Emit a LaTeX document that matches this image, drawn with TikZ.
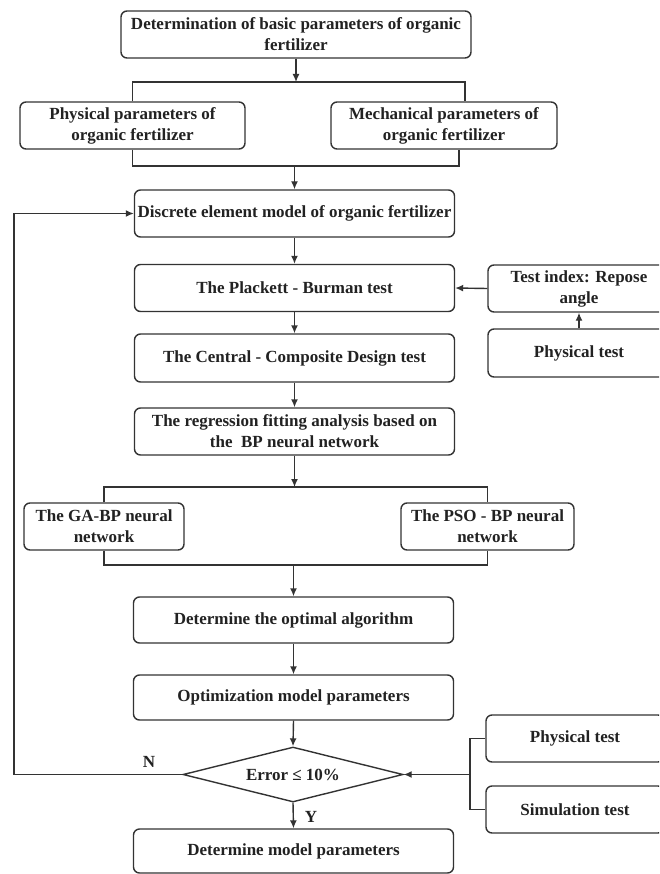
\documentclass[tikz,border=0pt]{standalone}
\usepackage{fontspec}
\setmainfont{Liberation Serif}
\usetikzlibrary{shapes.geometric,arrows.meta}
\definecolor{linec}{HTML}{333333}
\definecolor{txt}{HTML}{222222}
\newcommand{\myfs}{\fontsize{17}{21}\selectfont\bfseries}
\begin{document}
\begin{tikzpicture}[x=1pt,y=-1pt,
  box/.style={draw=linec, line width=1.4pt, rounded corners=6pt, align=center, inner sep=0pt, font=\myfs, text=txt, minimum height=47pt},
  conn/.style={draw=linec, line width=1.4pt},
  arr/.style={conn, -{Latex[length=8pt,width=7pt]}},
  lab/.style={font=\myfs, text=txt}]
\useasboundingbox (0,0) rectangle (659,874);
\clip (0,0) rectangle (659,874);
\fill[white] (0,0) rectangle (659,874);

\node[box, minimum width=350pt] (top) at (296,34.5) {Determination of basic parameters of organic\\fertilizer};
\node[box, minimum width=225pt] (phys) at (132.5,125.5) {Physical parameters of\\organic fertilizer};
\node[box, minimum width=226pt] (mech) at (444,125.5) {Mechanical parameters of\\organic fertilizer};
\node[box, minimum width=320pt] (disc) at (294.5,213.5) {Discrete element model of organic fertilizer};
\node[box, minimum width=320pt] (pb) at (294.5,288) {The Plackett - Burman test};
\node[box, minimum width=182pt] (ti) at (579,288.5) {Test index: Repose\\angle};
\node[box, minimum width=182pt, minimum height=48pt] (pt1) at (579,353) {Physical test};
\node[box, minimum width=320pt, minimum height=48pt] (ccd) at (294.5,358) {The Central - Composite Design test};
\node[box, minimum width=320pt] (reg) at (294.5,431.5) {The regression fitting analysis based on\\the\ \ BP neural network};
\node[box, minimum width=160pt] (ga) at (104,526.5) {The GA-BP neural\\network};
\node[box, minimum width=173pt] (pso) at (487.5,526.5) {The PSO - BP neural\\network};
\node[box, minimum width=320pt, minimum height=46pt] (opt) at (293.5,620) {Determine the optimal algorithm};
\node[box, minimum width=320pt, minimum height=45pt] (optm) at (293.5,697.5) {Optimization model parameters};
\node[diamond, aspect=4, draw=linec, line width=1.4pt, minimum width=220pt, minimum height=55pt, inner sep=0pt, font=\myfs, text=txt] (err) at (293,774.5) {Error ≤ 10\%};
\node[box, minimum width=320pt, minimum height=44pt] (fin) at (293.5,851) {Determine model parameters};
\node[box, minimum width=178pt] (pt2) at (575,738.5) {Physical test};
\node[box, minimum width=178pt] (sim) at (575,809.5) {Simulation test};

% junction coordinates
\coordinate (j1) at (0,82);
\coordinate (j1r) at (465,82);
\coordinate (j2) at (0,166);
\coordinate (j2r) at (459,166);
\coordinate (j3) at (0,487);
\coordinate (j4) at (0,565);
\coordinate (br) at (470,774.5);
\coordinate (fb) at (14,774.5);

\draw[arr] (top.south) -- (top.south |- j1);
\draw[conn] (phys.north) -- (phys.north |- j1) -- (j1r) -- (j1r |- mech.north);
\draw[conn] (phys.south) -- (phys.south |- j2) -- (j2r) -- (j2r |- mech.south);
\draw[arr] (disc.north |- j2) -- (disc.north);
\draw[arr] (disc) -- (pb);
\draw[arr] (pb) -- (ccd);
\draw[arr] (ccd) -- (reg);
\draw[arr] (ti.west) -- (pb.east);
\draw[arr] (pt1) -- (ti);
\draw[arr] (reg.south) -- (reg.south |- j3);
\draw[conn] (ga.north) -- (ga.north |- j3) -- (pso.north |- j3) -- (pso.north);
\draw[conn] (ga.south) -- (ga.south |- j4) -- (pso.south |- j4) -- (pso.south);
\draw[arr] (opt.north |- j4) -- (opt.north);
\draw[arr] (opt) -- (optm);
\draw[arr] (optm.south) -- (err.north);
\draw[arr] (err.south) -- (fin.north);
\draw[conn] (pt2.west) -- (br |- pt2.west) -- (br |- sim.west) -- (sim.west);
\draw[arr] (br) -- (err.east);
\draw[arr] (err.west) -- (fb) -- (fb |- disc.west) -- (disc.west);

\node[lab] (nl) at (149,762) {N};
\node[lab] (yl) at (311,817) {Y};
\end{tikzpicture}
\end{document}
